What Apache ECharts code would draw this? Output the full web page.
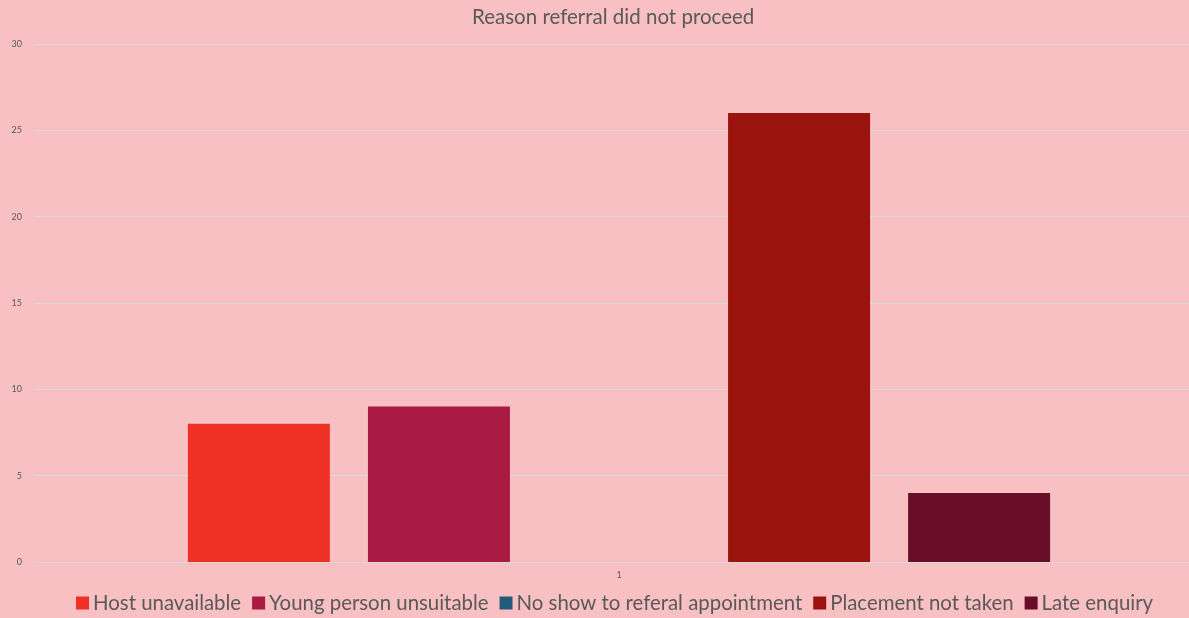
<!DOCTYPE html>
<html><head><meta charset="utf-8">
<script src="https://cdn.jsdelivr.net/npm/echarts@6/dist/echarts.min.js"></script>
<style>html,body{margin:0;padding:0;background:#F8C0C2}#c{width:1189px;height:618px}</style>
</head><body><div id="c"></div>
<script>
const categories = ['1'];
const seriesNames = ['Host unavailable','Young person unsuitable','No show to referal appointment','Placement not taken','Late enquiry'];
const seriesValues = [[8],[9],[0],[26],[4]];
const seriesColors = ['#EE3124','#A91B42','#235A78','#9A130D','#680E28'];
const yTicks = {min:0,max:30,interval:5};
const font = 'Lato, "Open Sans", sans-serif';
const chart = echarts.init(document.getElementById('c'));
chart.setOption({
  backgroundColor:'#F8C0C2',
  animation:false,
  title:{text:'Reason referral did not proceed',left:472,top:7,padding:0,textStyle:{fontFamily:font,fontSize:20.5,fontWeight:'normal',color:'#595959'}},
  grid:[
    {left:34,right:0,top:44,bottom:56,containLabel:false},
    {left:49,right:0,top:44,bottom:56,containLabel:false}
  ],
  legend:{bottom:0,left:71,itemWidth:13,itemHeight:13,itemGap:11,icon:'rect',textStyle:{fontFamily:font,fontSize:20.4,color:'#595959',padding:[0,0,0,-1]},data:seriesNames},
  xAxis:[
    {type:'category',gridIndex:0,data:[''],axisLine:{lineStyle:{color:'#D9D9D9'}},axisTick:{show:false},axisLabel:{show:false}},
    {type:'category',gridIndex:1,data:categories,axisLine:{show:false},axisTick:{show:false},axisLabel:{color:'#595959',fontSize:9,fontFamily:font,margin:9}}
  ],
  yAxis:[
    {type:'value',gridIndex:0,min:yTicks.min,max:yTicks.max,interval:yTicks.interval,axisLine:{show:false},axisTick:{show:false},splitLine:{lineStyle:{color:'#D9D9D9'}},axisLabel:{color:'#595959',fontSize:9,fontFamily:font,margin:12}},
    {type:'value',gridIndex:1,min:yTicks.min,max:yTicks.max,interval:yTicks.interval,show:false,splitLine:{show:false}}
  ],
  series:seriesNames.map((n,i)=>({name:n,type:'bar',xAxisIndex:1,yAxisIndex:1,data:seriesValues[i],barWidth:142,barGap:'26.8%',itemStyle:{color:seriesColors[i]}}))
});
</script></body></html>
